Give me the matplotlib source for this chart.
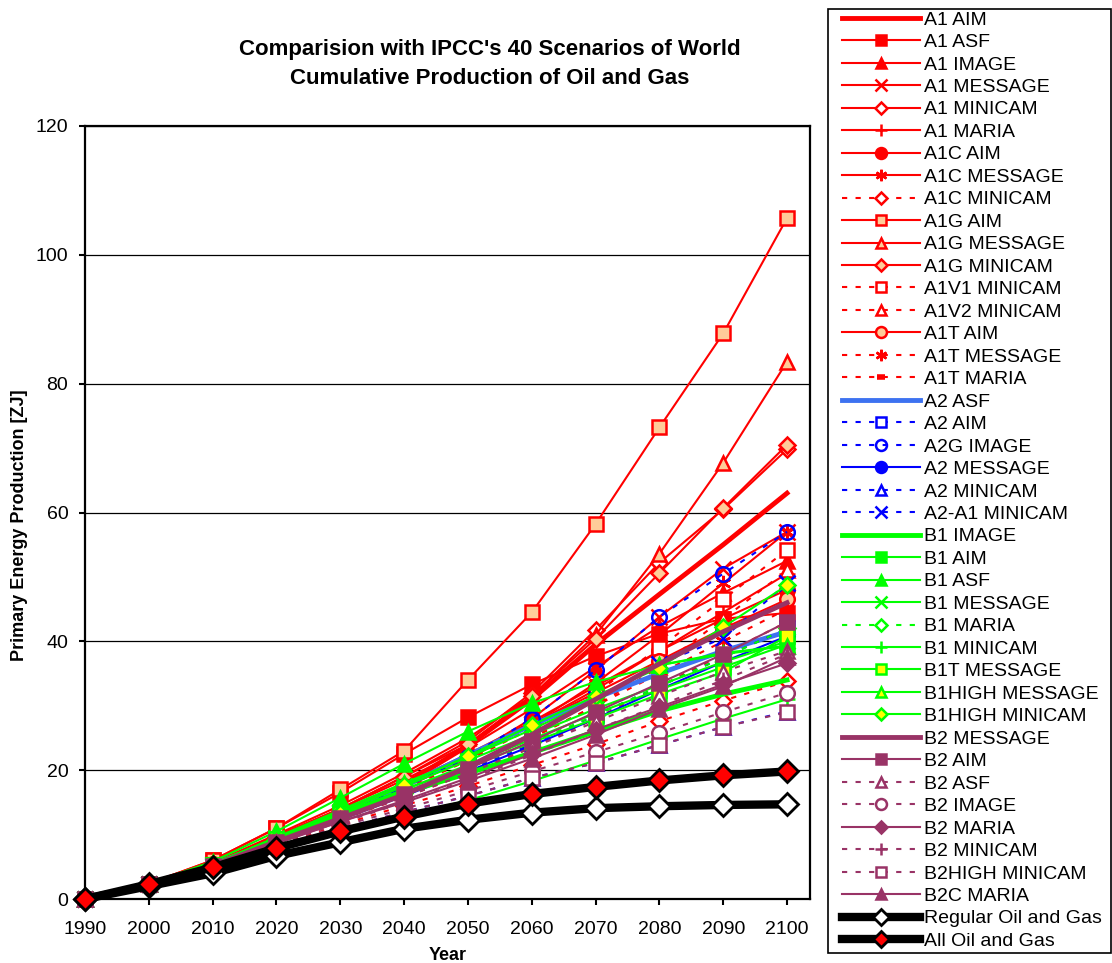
import numpy as np
import matplotlib
matplotlib.use('Agg')
import matplotlib.pyplot as plt
from matplotlib.patches import Rectangle

plt.rcParams['font.family'] = ['Liberation Sans', 'DejaVu Sans']

years = [1990, 2000, 2010, 2020, 2030, 2040, 2050, 2060, 2070, 2080, 2090, 2100]

# cumulative production [ZJ]
a1_aim      = [0, 2.3, 5.5, 9.0, 13.0, 17.8, 23.8, 31.0, 39.5, 47.3, 55.0, 63.0]
a1_asf      = [0, 2.4, 6.0, 11.0, 16.5, 22.5, 28.2, 33.3, 37.7, 41.2, 43.5, 44.4]
a1_image    = [0, 2.3, 5.5, 9.8, 14.0, 18.5, 23.5, 29.5, 36.0, 42.3, 47.5, 52.5]
a1_message  = [0, 2.3, 5.4, 9.5, 13.5, 17.5, 22.0, 28.0, 35.5, 43.8, 51.3, 57.0]
a1_minicam  = [0, 2.3, 5.5, 9.6, 14.0, 19.0, 24.5, 32.0, 41.8, 52.2, 60.5, 69.8]
a1_maria    = [0, 2.3, 5.3, 9.2, 13.2, 17.3, 21.8, 27.0, 32.5, 38.5, 44.5, 50.5]
a1c_aim     = [0, 2.3, 5.4, 9.3, 13.5, 17.8, 22.5, 27.5, 33.0, 38.5, 43.5, 48.0]
a1c_message = [0, 2.3, 5.4, 9.4, 13.4, 17.4, 21.8, 27.0, 33.5, 41.0, 49.0, 57.0]
a1c_minicam = [0, 2.3, 5.0, 8.3, 11.5, 14.5, 17.5, 20.8, 24.0, 27.6, 30.8, 33.8]
a1g_aim     = [0, 2.4, 6.0, 11.0, 17.0, 23.0, 34.0, 44.5, 58.2, 73.2, 87.8, 105.7]
a1g_message = [0, 2.3, 5.6, 10.0, 14.5, 19.5, 25.0, 31.5, 41.0, 53.6, 67.7, 83.4]
a1g_minicam = [0, 2.3, 5.5, 9.6, 14.0, 19.0, 24.0, 31.5, 40.4, 50.6, 60.7, 70.5]
a1v1_minicam = [0, 2.3, 5.3, 9.0, 13.0, 17.0, 21.5, 26.5, 32.0, 39.0, 46.5, 54.2]
a1v2_minicam = [0, 2.3, 5.2, 8.8, 12.5, 16.3, 20.5, 25.0, 30.0, 36.0, 43.5, 51.0]
a1t_aim     = [0, 2.3, 5.4, 9.3, 13.3, 17.5, 22.0, 27.0, 32.0, 37.0, 42.0, 46.5]
a1t_message = [0, 2.3, 5.3, 9.0, 12.8, 16.5, 20.5, 25.0, 30.0, 35.0, 40.0, 45.0]
a1t_maria   = [0, 2.3, 5.2, 8.8, 12.3, 15.8, 19.5, 23.5, 28.0, 33.0, 38.0, 43.0]
a2_asf      = [0, 2.3, 5.3, 9.2, 13.2, 17.5, 22.3, 27.0, 31.2, 35.0, 38.5, 41.5]
a2_aim      = [0, 2.3, 5.2, 8.8, 12.5, 16.2, 20.0, 24.0, 28.5, 33.0, 37.5, 42.0]
a2g_image   = [0, 2.3, 5.3, 9.0, 13.0, 17.3, 22.0, 28.0, 35.5, 43.8, 50.5, 57.0]
a2_message  = [0, 2.3, 5.2, 8.8, 12.3, 16.0, 19.8, 23.8, 28.0, 32.5, 36.8, 40.8]
a2_minicam  = [0, 2.3, 4.9, 8.0, 10.9, 13.5, 16.0, 18.8, 21.1, 23.9, 26.7, 29.1]
a2a1_minicam = [0, 2.3, 5.2, 8.9, 12.6, 16.3, 20.5, 25.5, 31.0, 36.5, 40.5, 49.0]
b1_image    = [0, 2.3, 5.2, 9.3, 13.0, 16.5, 19.5, 22.7, 26.0, 29.2, 31.8, 34.0]
b1_aim      = [0, 2.3, 5.3, 9.3, 13.2, 17.0, 20.8, 24.8, 28.8, 32.5, 36.0, 39.5]
b1_asf      = [0, 2.4, 5.8, 10.5, 15.7, 21.0, 26.0, 30.4, 33.7, 36.3, 38.2, 39.3]
b1_message  = [0, 2.3, 5.3, 9.4, 13.5, 17.5, 21.5, 25.5, 29.5, 33.2, 36.8, 40.0]
b1_maria    = [0, 2.3, 5.2, 9.0, 12.8, 16.5, 20.3, 24.3, 28.5, 33.0, 37.5, 42.0]
b1_minicam  = [0, 2.2, 4.7, 7.8, 10.8, 13.0, 15.3, 18.3, 21.5, 24.8, 28.0, 31.0]
b1t_message = [0, 2.3, 5.3, 9.3, 13.2, 17.0, 20.5, 24.3, 28.0, 31.8, 35.2, 40.8]
b1high_message = [0, 2.3, 5.4, 9.6, 13.8, 18.0, 22.0, 26.3, 31.0, 36.3, 38.0, 39.3]
b1high_minicam = [0, 2.3, 5.3, 9.3, 13.4, 17.7, 22.2, 27.0, 31.5, 35.9, 42.2, 48.7]
b2_message  = [0, 2.3, 5.2, 8.9, 12.5, 16.2, 20.5, 25.5, 31.0, 36.5, 41.5, 46.0]
b2_aim      = [0, 2.3, 5.2, 8.9, 12.6, 16.3, 20.2, 24.5, 29.0, 33.5, 38.0, 43.0]
b2_asf      = [0, 2.3, 5.2, 8.9, 12.4, 15.8, 19.5, 23.5, 27.5, 31.5, 35.3, 38.5]
b2_image    = [0, 2.3, 5.0, 8.2, 11.3, 14.0, 16.8, 19.8, 22.8, 25.8, 29.0, 32.0]
b2_maria    = [0, 2.3, 5.1, 8.6, 12.0, 15.3, 18.8, 22.5, 26.3, 29.8, 33.3, 36.6]
b2_minicam  = [0, 2.3, 5.1, 8.5, 11.8, 15.0, 18.5, 22.3, 26.3, 30.0, 34.0, 38.0]
b2high_minicam = [0, 2.3, 4.9, 8.0, 10.9, 13.5, 16.0, 18.8, 21.1, 23.9, 26.7, 29.0]
b2c_maria   = [0, 2.3, 5.1, 8.7, 12.0, 15.0, 18.3, 21.8, 25.5, 29.5, 33.0, 37.5]
regular_og  = [0, 2.0, 4.0, 6.7, 8.8, 10.9, 12.3, 13.4, 14.1, 14.4, 14.6, 14.7]
all_og      = [0, 2.3, 4.9, 7.9, 10.5, 12.8, 14.8, 16.3, 17.4, 18.4, 19.2, 19.8]

RED = '#FF0000'
PEACH = '#FFCC99'
BLUE = '#0000FF'
LBLUE = '#3D72F0'
GREEN = '#00FF00'
YELLOW = '#FFFF00'
PURPLE = '#993366'
ASTER = (6, 2, 0)

# name, data, colour, marker, face, dashed, thick
series = [
    ('A1 AIM', a1_aim, RED, None, None, False, True),
    ('A1 ASF', a1_asf, RED, 's', RED, False, False),
    ('A1 IMAGE', a1_image, RED, '^', RED, False, False),
    ('A1 MESSAGE', a1_message, RED, 'x', RED, False, False),
    ('A1 MINICAM', a1_minicam, RED, 'D', 'white', False, False),
    ('A1 MARIA', a1_maria, RED, '+', RED, False, False),
    ('A1C AIM', a1c_aim, RED, 'o', RED, False, False),
    ('A1C MESSAGE', a1c_message, RED, ASTER, RED, False, False),
    ('A1C MINICAM', a1c_minicam, RED, 'D', 'white', True, False),
    ('A1G AIM', a1g_aim, RED, 's', PEACH, False, False),
    ('A1G MESSAGE', a1g_message, RED, '^', PEACH, False, False),
    ('A1G MINICAM', a1g_minicam, RED, 'D', PEACH, False, False),
    ('A1V1 MINICAM', a1v1_minicam, RED, 's', 'white', True, False),
    ('A1V2 MINICAM', a1v2_minicam, RED, '^', 'white', True, False),
    ('A1T AIM', a1t_aim, RED, 'o', PEACH, False, False),
    ('A1T MESSAGE', a1t_message, RED, ASTER, RED, True, False),
    ('A1T MARIA', a1t_maria, RED, '_', RED, True, False),
    ('A2 ASF', a2_asf, LBLUE, None, None, False, True),
    ('A2 AIM', a2_aim, BLUE, 's', 'white', True, False),
    ('A2G IMAGE', a2g_image, BLUE, 'o', 'none', True, False),
    ('A2 MESSAGE', a2_message, BLUE, 'o', BLUE, False, False),
    ('A2 MINICAM', a2_minicam, BLUE, '^', 'white', True, False),
    ('A2-A1 MINICAM', a2a1_minicam, BLUE, 'x', BLUE, True, False),
    ('B1 IMAGE', b1_image, GREEN, None, None, False, True),
    ('B1 AIM', b1_aim, GREEN, 's', GREEN, False, False),
    ('B1 ASF', b1_asf, GREEN, '^', GREEN, False, False),
    ('B1 MESSAGE', b1_message, GREEN, 'x', GREEN, False, False),
    ('B1 MARIA', b1_maria, GREEN, 'D', 'white', True, False),
    ('B1 MINICAM', b1_minicam, GREEN, '+', GREEN, False, False),
    ('B1T MESSAGE', b1t_message, GREEN, 's', YELLOW, False, False),
    ('B1HIGH MESSAGE', b1high_message, GREEN, '^', YELLOW, False, False),
    ('B1HIGH MINICAM', b1high_minicam, GREEN, 'D', YELLOW, False, False),
    ('B2 MESSAGE', b2_message, PURPLE, None, None, False, True),
    ('B2 AIM', b2_aim, PURPLE, 's', PURPLE, False, False),
    ('B2 ASF', b2_asf, PURPLE, '^', 'white', True, False),
    ('B2 IMAGE', b2_image, PURPLE, 'o', 'white', True, False),
    ('B2 MARIA', b2_maria, PURPLE, 'D', PURPLE, False, False),
    ('B2 MINICAM', b2_minicam, PURPLE, '+', PURPLE, True, False),
    ('B2HIGH MINICAM', b2high_minicam, PURPLE, 's', 'white', True, False),
    ('B2C MARIA', b2c_maria, PURPLE, '^', PURPLE, False, False),
]

fig = plt.figure(figsize=(11.12, 9.63), dpi=100)
ax = fig.add_axes([85/1112, 1-899/963, (810-85)/1112, (899-126)/963])

handles = []
for name, vals, col, mk, face, dashed, thick in series:
    kw = dict(color=col, label=name, clip_on=False)
    if thick:
        kw.update(lw=3.5)
    else:
        kw.update(lw=1.5, marker=mk, mfc=face, mec=col, ms=10, mew=1.8)
        if mk == '_':
            kw.update(ms=7, mew=4)
        if mk in ('x', '+', ASTER):
            kw.update(ms=11, mew=1.8)
        if mk == 'D':
            kw.update(ms=8.5)
        if mk == 'o':
            kw.update(ms=10.5)
    if dashed:
        kw.update(ls=(0, (2.5, 4)))
    h, = ax.plot(years, vals, **kw)
    handles.append(h)

for name, vals, face in [('Regular Oil and Gas', regular_og, 'white'),
                         ('All Oil and Gas', all_og, RED)]:
    h, = ax.plot(years, vals, color='black', lw=6, marker='D', mfc=face,
                 mec='black', ms=11, mew=2, label=name, clip_on=False, zorder=3)
    handles.append(h)

ax.set_xlim(1990, 2103.6)
ax.set_ylim(0, 120)
ax.set_xticks(years)
ax.set_xticklabels([str(y) for y in years])
ax.set_yticks(range(0, 121, 20))
ax.yaxis.grid(True, color='black', lw=0.9)
ax.set_axisbelow(True)
ax.tick_params(axis='both', labelsize=14, direction='out', length=4, width=1.5)
ax.tick_params(axis='x', pad=12)
ax.tick_params(axis='y', pad=8)
for sp in ax.spines.values():
    sp.set_linewidth(1.6)

fig.text(490/1112, 1-64/963, "Comparision with IPCC's 40 Scenarios of World\nCumulative Production of Oil and Gas",
         ha='center', va='center', fontsize=16, fontweight='bold', linespacing=1.5)
fig.text(20/1112, 1-525/963, 'Primary Energy Production [ZJ]', rotation=90,
         ha='center', va='center', fontsize=13, fontweight='bold')
fig.text(448/1112, 1-955/963, 'Year', ha='center', va='center', fontsize=13, fontweight='bold')

# legend frame drawn separately so the handles can sit further in
fig.patches.append(Rectangle((828/1112, 1-953/963), (1111-828)/1112, (953-9)/963,
                             transform=fig.transFigure, fill=False, ec='black', lw=1.2))
leg = fig.legend(handles=handles, loc='upper left', bbox_to_anchor=(842/1112, 1-11/963),
                 fontsize=14, frameon=False, handlelength=4.0, handletextpad=0.2,
                 labelspacing=0.25, borderpad=0, markerscale=0.75, borderaxespad=0)

plt.savefig('out.png', dpi=100)
